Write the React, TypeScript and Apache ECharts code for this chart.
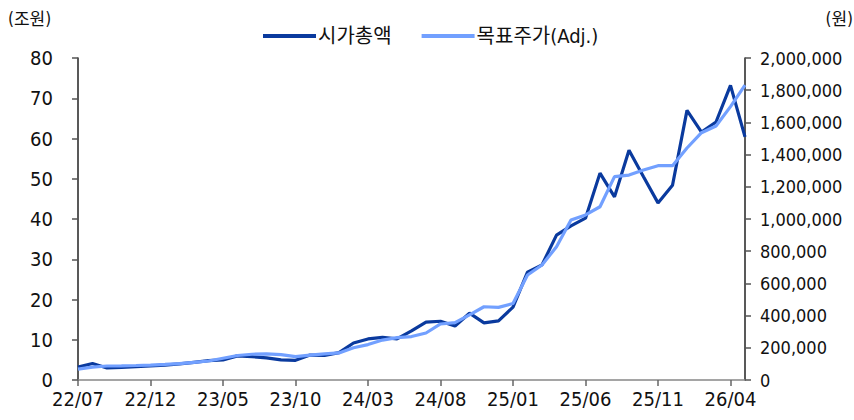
import React, { useEffect, useRef } from "react";
import * as echarts from "echarts";

const categories = [
  "22/07","22/08","22/09","22/10","22/11","22/12",
  "23/01","23/02","23/03","23/04","23/05","23/06","23/07","23/08","23/09","23/10","23/11","23/12",
  "24/01","24/02","24/03","24/04","24/05","24/06","24/07","24/08","24/09","24/10","24/11","24/12",
  "25/01","25/02","25/03","25/04","25/05","25/06","25/07","25/08","25/09","25/10","25/11","25/12",
  "26/01","26/02","26/03","26/04","26/05",
];

// 시가총액 (조원)
const marketCap = [
  3.2, 4.1, 3.0, 3.1, 3.3, 3.5,
  3.7, 4.0, 4.4, 4.8, 5.0, 6.0, 5.8, 5.5, 5.0, 4.9, 6.2, 6.1,
  6.8, 9.2, 10.2, 10.6, 10.2, 12.2, 14.4, 14.6, 13.4, 16.6, 14.2, 14.7,
  18.1, 26.8, 28.6, 36.0, 38.3, 40.2, 51.4, 45.5, 57.1, 50.5, 44.0, 48.4,
  67.0, 61.6, 64.1, 73.2, 60.4,
];

// 목표주가(Adj.) (원)
const targetPrice = [
  68000, 80000, 87000, 88000, 90000, 93000,
  97000, 102000, 110000, 118000, 135000, 152000, 160000, 162000, 158000, 145000, 155000, 162000,
  168000, 200000, 220000, 248000, 263000, 270000, 292000, 348000, 356000, 404000, 455000, 451000,
  475000, 652000, 714000, 828000, 994000, 1025000, 1076000, 1263000, 1273000, 1304000, 1331000, 1331000,
  1441000, 1536000, 1578000, 1698000, 1832000,
];

const seriesNames = ["시가총액", "목표주가(Adj.)"];
const leftUnit = "(조원)";
const rightUnit = "(원)";

const FONT = '"Liberation Sans Narrow", "DejaVu Sans Condensed", "Noto Sans CJK KR", sans-serif';

export default function App() {
  const ref = useRef<HTMLDivElement>(null);
  useEffect(() => {
    if (!ref.current) return;
    const chart = echarts.init(ref.current, undefined, { renderer: "svg" });
    chart.setOption({
      animation: false,
      textStyle: { fontFamily: FONT },
      grid: { left: 78, right: 109, top: 58, bottom: 40, containLabel: false, outerBoundsMode: "none" },
      legend: {
        left: 258,
        top: 21,
        itemWidth: 53,
        itemHeight: 4,
        itemGap: 30,
        icon: "rect",
        textStyle: { fontFamily: FONT, fontSize: 20, color: "#111", padding: [0, 0, 0, -3] },
        data: seriesNames,
      },
      graphic: [
        { type: "text", left: 8, top: 10, style: { text: leftUnit, fontFamily: FONT, fontSize: 17, fill: "#111" } },
        { type: "text", right: 1, top: 10, style: { text: rightUnit, fontFamily: FONT, fontSize: 17, fill: "#111" } },
      ],
      xAxis: {
        type: "category",
        data: categories,
        boundaryGap: false,
        axisLine: { lineStyle: { color: "#888", width: 1.5 } },
        axisTick: { interval: 4, length: 6, lineStyle: { color: "#666", width: 1.5 } },
        axisLabel: { interval: 4, fontFamily: FONT, fontSize: 20, color: "#111", margin: 9 },
        splitLine: { show: false },
      },
      yAxis: [
        {
          type: "value",
          min: 0,
          max: 80,
          interval: 10,
          axisLine: { show: true, lineStyle: { color: "#222", width: 1.5 } },
          axisTick: { show: true, length: 6, lineStyle: { color: "#555", width: 1.5 } },
          axisLabel: { fontFamily: FONT, fontSize: 20, color: "#111", margin: 25 },
          splitLine: { show: false },
        },
        {
          type: "value",
          min: 0,
          max: 2000000,
          interval: 200000,
          position: "right",
          axisLine: { show: true, lineStyle: { color: "#222", width: 1.5 } },
          axisTick: { show: true, length: 6, lineStyle: { color: "#555", width: 1.5 } },
          axisLabel: {
            fontFamily: FONT,
            fontSize: 18,
            color: "#111",
            margin: 15,
            formatter: (v: number) => v.toLocaleString("en-US"),
          },
          splitLine: { show: false },
        },
      ],
      series: [
        {
          name: seriesNames[0],
          type: "line",
          data: marketCap,
          yAxisIndex: 0,
          showSymbol: false,
          symbol: "none",
          lineStyle: { color: "#0A3A9E", width: 3.2 },
          itemStyle: { color: "#0A3A9E" },
        },
        {
          name: seriesNames[1],
          type: "line",
          data: targetPrice,
          yAxisIndex: 1,
          showSymbol: false,
          symbol: "none",
          lineStyle: { color: "#72A0FF", width: 3.2 },
          itemStyle: { color: "#72A0FF" },
        },
      ],
    });
    return () => chart.dispose();
  }, []);
  return <div ref={ref} style={{ width: 854, height: 420, position: "absolute", left: 0, top: 0 }} />;
}
